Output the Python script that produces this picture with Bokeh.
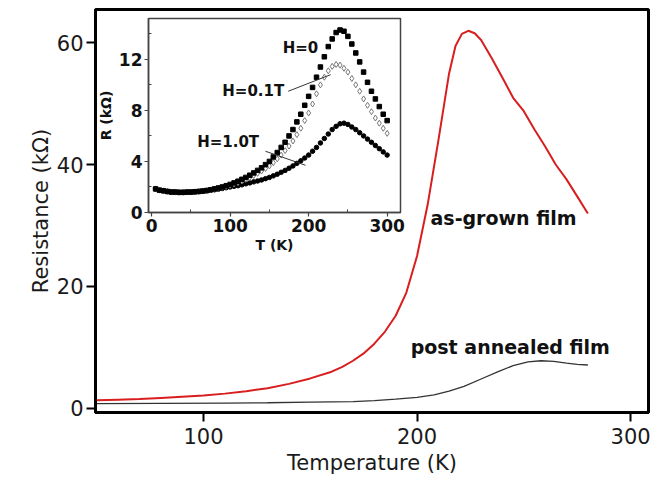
from bokeh.plotting import figure
from bokeh.models import Range1d, FixedTicker, GridBox, Title
from bokeh.core.properties import value
from bokeh.embed import file_html
from bokeh.resources import INLINE

# ---------------- main chart data ----------------
T_grown = [50, 60, 70, 80, 90, 100, 110, 120, 130, 140, 150, 160, 165, 170, 175, 180, 185,
           190, 195, 200, 205, 210, 215, 218, 221, 224, 227, 230, 235, 240, 245, 250, 255,
           260, 265, 270, 275, 280]
R_grown = [1.3, 1.4, 1.5, 1.7, 1.9, 2.1, 2.4, 2.8, 3.3, 4.0, 4.9, 6.0, 6.8, 7.8, 9.0, 10.6, 12.6,
           15.2, 19.0, 25.0, 33.5, 44.0, 55.0, 59.5, 61.5, 62.0, 61.6, 60.5, 57.5, 54.3, 51.0, 48.8,
           45.8, 43.0, 40.0, 37.6, 34.8, 32.0]

T_ann = [50, 80, 110, 130, 150, 170, 180, 190, 200, 208, 215, 222, 230, 238, 245, 252, 258,
         264, 270, 275, 280]
R_ann = [0.75, 0.8, 0.85, 0.9, 1.0, 1.1, 1.25, 1.5, 1.8, 2.2, 2.8, 3.6, 4.8, 6.0, 7.0, 7.6, 7.8,
         7.7, 7.4, 7.2, 7.1]

x_ticks = [100, 200, 300]
y_ticks = [0, 20, 40, 60]
main_labels = ["as-grown film", "post annealed film"]

# ---------------- inset data ----------------
T_in = [5, 10, 15, 20, 25, 30, 35, 40, 45, 50, 55, 60, 65, 70, 75, 80, 85, 90, 95, 100,
        105, 110, 115, 120, 125, 130, 135, 140, 145, 150, 155, 160, 165, 170, 175, 180, 185,
        190, 195, 200, 205, 210, 215, 220, 225, 230, 235, 240, 245, 250, 255, 260, 265, 270,
        275, 280, 285, 290, 295, 300]
R_H0 = [1.85, 1.75, 1.7, 1.65, 1.6, 1.6, 1.58, 1.58, 1.6, 1.6, 1.62, 1.65, 1.68, 1.72, 1.78,
        1.85, 1.92, 2.0, 2.1, 2.2, 2.32, 2.45, 2.6, 2.75, 2.92, 3.1, 3.3, 3.5, 3.75, 4.0, 4.35,
        4.7, 5.1, 5.5, 6.0, 6.5, 7.1, 7.7, 8.4, 9.1, 9.8, 10.6, 11.4, 12.2, 13.0, 13.6, 14.1,
        14.3, 14.2, 13.8, 13.2, 12.5, 11.8, 11.0, 10.2, 9.5, 8.9, 8.3, 7.7, 7.2]
R_H01 = [1.85, 1.75, 1.7, 1.65, 1.6, 1.6, 1.58, 1.58, 1.6, 1.6, 1.62, 1.65, 1.68, 1.72, 1.77,
         1.83, 1.9, 1.97, 2.05, 2.14, 2.24, 2.35, 2.47, 2.6, 2.74, 2.9, 3.07, 3.25, 3.45, 3.65,
         3.9, 4.2, 4.5, 4.85, 5.2, 5.6, 6.1, 6.6, 7.2, 7.8, 8.5, 9.3, 10.0, 10.6, 11.1, 11.45,
         11.6, 11.55, 11.3, 11.0, 10.5, 10.0, 9.5, 8.9, 8.4, 7.9, 7.4, 7.0, 6.6, 6.2]
R_H1 = [1.85, 1.75, 1.7, 1.65, 1.62, 1.6, 1.58, 1.58, 1.58, 1.6, 1.62, 1.64, 1.67, 1.7, 1.74,
        1.78, 1.83, 1.88, 1.94, 2.0, 2.05, 2.1, 2.17, 2.25, 2.32, 2.4, 2.47, 2.55, 2.65, 2.75,
        2.87, 3.0, 3.15, 3.3, 3.47, 3.65, 3.85, 4.05, 4.27, 4.5, 4.8, 5.1, 5.45, 5.8, 6.15, 6.5,
        6.75, 6.95, 7.0, 6.9, 6.7, 6.5, 6.25, 6.0, 5.75, 5.5, 5.25, 5.0, 4.75, 4.5]

in_x_ticks = [0, 100, 200, 300]
in_x_minor = [50, 150, 250]
in_y_ticks = [0, 4, 8, 12]
in_y_minor = [2, 6, 10, 14]
in_labels = ["H=0", "H=0.1T", "H=1.0T"]

# ---------------- main figure ----------------
p = figure(width=655, height=486, output_backend="svg", toolbar_location=None,
           x_range=Range1d(49.4, 308.4), y_range=Range1d(-0.7, 65.5),
           min_border_left=95, min_border_right=7, min_border_top=9, min_border_bottom=74)
p.grid.visible = False
p.outline_line_color = "black"
p.outline_line_width = 3

p.line(T_grown, R_grown, color="#d81e1e", line_width=2)
p.line(T_ann, R_ann, color="#333333", line_width=1.3)

for ax in (p.xaxis[0], p.yaxis[0]):
    ax.axis_line_width = 3
    ax.axis_line_color = "black"
    ax.major_tick_line_width = 2
    ax.major_tick_out = 9
    ax.major_tick_in = 0
    ax.minor_tick_line_color = None
    ax.major_label_text_font = "DejaVu Sans"
    ax.major_label_text_font_size = "21px"
    ax.major_label_text_color = "#1a1a1a"
    ax.axis_label_text_font = "DejaVu Sans"
    ax.axis_label_text_font_style = "normal"
    ax.axis_label_text_font_size = "21px"
    ax.axis_label_text_color = "#1a1a1a"
p.xaxis.major_label_standoff = 6
p.yaxis.major_label_standoff = 3
p.xaxis.ticker = FixedTicker(ticks=x_ticks)
p.yaxis.ticker = FixedTicker(ticks=y_ticks)
p.xaxis.axis_label = "Temperature (K)"
p.xaxis.axis_label_standoff = 4

ylab = Title(text="Resistance (k\u03a9)", align="center", offset=-28, standoff=2,
             text_font="DejaVu Sans", text_font_size="21px", text_font_style="normal",
             text_color="#1a1a1a")
p.add_layout(ylab, "left")

p.text(x=[206.3, 197.0], y=[31.2, 10.0], text=main_labels,
       text_font=value("DejaVu Sans"), text_font_style="bold", text_font_size="19px",
       text_align="left", text_baseline="middle", text_color="#111111")

# ---------------- inset figure ----------------
q = figure(width=326, height=241, output_backend="svg", toolbar_location=None,
           x_range=Range1d(-4, 317), y_range=Range1d(0, 15.2),
           min_border_left=62, min_border_right=12, min_border_top=4, min_border_bottom=40,
           background_fill_color="white", border_fill_alpha=0)
q.grid.visible = False
q.outline_line_color = "#444444"
q.outline_line_width = 1.5

q.scatter(T_in, R_H1, marker="circle", size=4.5, color="black")
q.scatter(T_in, R_H01, marker="diamond", size=6, fill_color="white",
          line_color="#777777", line_width=1)
q.scatter(T_in, R_H0, marker="square", size=4.5, color="black")

q.segment(x0=[174, 145], y0=[9.5, 4.8], x1=[228, 196], y1=[10.8, 3.7],
          line_color="#333333", line_width=1)
q.text(x=[167, 90, 58], y=[12.9, 9.55, 5.5], text=in_labels,
       text_font=value("DejaVu Sans"), text_font_style="bold", text_font_size="15px",
       text_align="left", text_baseline="middle", text_color="#111111")

for ax in (q.xaxis[0], q.yaxis[0]):
    ax.axis_line_width = 1.5
    ax.axis_line_color = "#444444"
    ax.major_tick_line_color = "#444444"
    ax.major_tick_line_width = 1.2
    ax.major_tick_out = 4
    ax.major_tick_in = 0
    ax.minor_tick_line_color = "#444444"
    ax.minor_tick_out = 0
    ax.minor_tick_in = 3
    ax.major_label_text_font = "DejaVu Sans"
    ax.major_label_text_font_style = "bold"
    ax.major_label_text_font_size = "17px"
    ax.major_label_text_color = "#111111"
    ax.major_label_standoff = 2
    ax.axis_label_text_font = "DejaVu Sans"
    ax.axis_label_text_font_style = "bold"
    ax.axis_label_text_font_size = "14px"
    ax.axis_label_text_color = "#111111"
    ax.axis_label_standoff = 2
q.xaxis.ticker = FixedTicker(ticks=in_x_ticks, minor_ticks=in_x_minor)
q.yaxis.ticker = FixedTicker(ticks=in_y_ticks, minor_ticks=in_y_minor)
q.xaxis.axis_label = "T (K)"
q.yaxis.axis_label = "R (k\u03a9)"

layout = GridBox(children=[(p, 0, 0, 3, 3), (q, 1, 1, 1, 1)],
                 rows=["14px", "241px", "231px"], cols=["86px", "326px", "243px"], spacing=0)

open("out.html", "w").write(file_html(layout, INLINE))
